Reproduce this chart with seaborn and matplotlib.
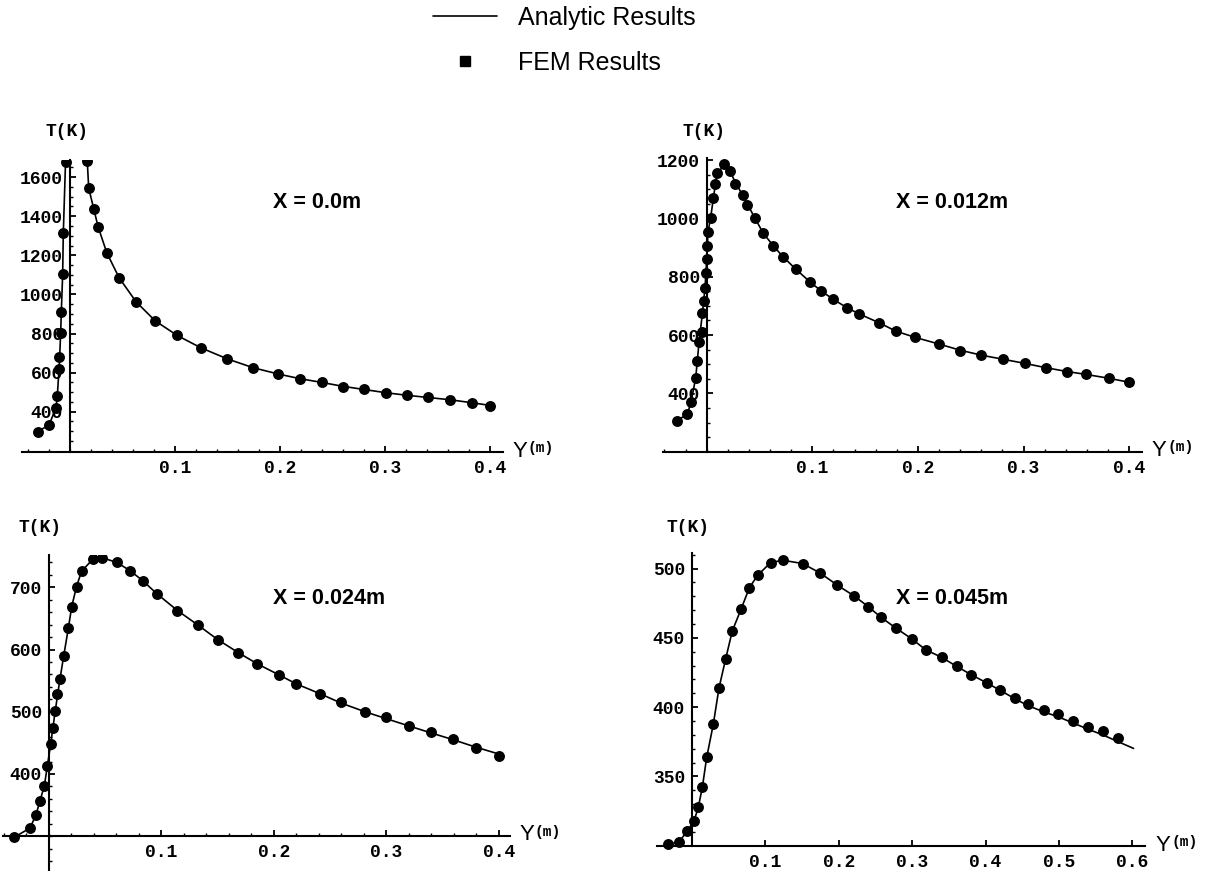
import numpy as np
import matplotlib
matplotlib.use("Agg")
import matplotlib.pyplot as plt
import seaborn as sns
from matplotlib.lines import Line2D

sns.set_theme(style="white")
plt.rcParams["font.family"] = ["Liberation Sans", "DejaVu Sans"]
plt.rcParams["axes.edgecolor"] = "black"
plt.rcParams["xtick.color"] = "black"
plt.rcParams["ytick.color"] = "black"
plt.rcParams["text.color"] = "black"

# ---------------- data ----------------
TITLES = ["X = 0.0m", "X = 0.012m", "X = 0.024m", "X = 0.045m"]
LEGEND_LABELS = ["Analytic Results", "FEM Results"]

# Panel 1 : X = 0.0 m
P1_FEM_Y = [-0.0308, -0.020, -0.0133, -0.0121, -0.0102, -0.0102, -0.0089, -0.0083, -0.007, -0.0064,
            -0.0041, 0.0165, 0.0178, 0.0226, 0.0267, 0.035, 0.0467, 0.0629, 0.081, 0.102, 0.1245,
            0.1498, 0.1743, 0.1981, 0.2188, 0.2394, 0.2595, 0.2795, 0.3008, 0.3208, 0.3405, 0.3618,
            0.3825, 0.40]
P1_FEM_T = [298, 332, 420, 482, 617, 681, 801, 908, 1104, 1312,
            1676, 1680, 1543, 1437, 1346, 1213, 1085, 962, 865, 790, 727,
            670, 625, 593, 569, 550, 528, 516, 494, 484, 474, 461,
            443, 429]
P1_AN_Y = [-0.0308, -0.020, -0.0133, -0.0121, -0.0102, -0.0089, -0.0083, -0.007, -0.0064, -0.0042,
           -0.0030, 0.0150, 0.0163, 0.0178, 0.0226, 0.0267, 0.035, 0.0467, 0.0629, 0.081, 0.102,
           0.1245, 0.1498, 0.1743, 0.1981, 0.2188, 0.2394, 0.2595, 0.2795, 0.3008, 0.3208, 0.3405,
           0.3618, 0.3825, 0.40]
P1_AN_T = [298, 332, 420, 482, 640, 801, 908, 1104, 1312, 1690,
           2600, 2600, 1690, 1543, 1437, 1346, 1213, 1085, 962, 865, 790,
           727, 670, 625, 593, 569, 550, 530, 514, 497, 484, 473,
           461, 446, 432]

# Panel 2 : X = 0.012 m
P2_FEM_Y = [-0.0284, -0.0183, -0.0148, -0.0104, -0.0089, -0.0073, -0.0047, -0.0041, -0.0026, -0.0016,
            -0.0007, 0.0, 0.0006, 0.0012, 0.004, 0.0063, 0.0079, 0.0095, 0.0164, 0.022, 0.0268,
            0.0347, 0.0378, 0.0457, 0.0536, 0.063, 0.0726, 0.0843, 0.0975, 0.108, 0.12, 0.1326,
            0.1446, 0.1632, 0.1793, 0.1973, 0.22, 0.24, 0.26, 0.2804, 0.3009, 0.3211, 0.341,
            0.359, 0.3804, 0.40]
P2_FEM_T = [306, 329, 371, 454, 512, 575, 611, 674, 718, 762,
            812, 861, 906, 952, 1000, 1069, 1118, 1157, 1186, 1163, 1118,
            1080, 1046, 1000, 949, 906, 869, 826, 783, 752, 722, 694,
            672, 642, 613, 592, 569, 546, 531, 517, 503, 487, 474,
            465, 452, 438]
P2_AN_Y = [-0.0284, -0.0183, -0.0148, -0.0104, -0.0073, -0.0041, -0.0016, 0.0, 0.0012, 0.004,
           0.0063, 0.0095, 0.0164, 0.022, 0.0268, 0.0347, 0.0457, 0.0536, 0.063, 0.0726, 0.0843,
           0.0975, 0.108, 0.12, 0.1326, 0.1446, 0.1632, 0.1793, 0.1973, 0.22, 0.24, 0.26,
           0.2804, 0.3009, 0.3211, 0.341, 0.359, 0.3804, 0.40]
P2_AN_T = [306, 329, 371, 454, 575, 674, 762, 861, 952, 1010,
           1069, 1150, 1184, 1163, 1125, 1075, 1000, 949, 906, 867, 826,
           783, 752, 722, 694, 672, 642, 613, 592, 569, 548, 531,
           517, 503, 488, 475, 465, 452, 438]

# Panel 3 : X = 0.024 m
P3_FEM_Y = [-0.0311, -0.0169, -0.0116, -0.008, -0.0042, -0.0015, 0.0015, 0.0038, 0.0053, 0.0074,
            0.0098, 0.0133, 0.0172, 0.0202, 0.0246, 0.029, 0.0394, 0.0468, 0.0602, 0.072, 0.0838,
            0.0957, 0.114, 0.1327, 0.15, 0.1683, 0.1852, 0.2047, 0.2196, 0.2409, 0.2596, 0.2809,
            0.2996, 0.3203, 0.3396, 0.3594, 0.3796, 0.40]
P3_FEM_T = [298, 313, 334, 357, 380, 412, 448, 474, 501, 529,
            553, 590, 634, 669, 700, 727, 745, 747, 740, 727, 710,
            690, 662, 640, 615, 594, 576, 559, 545, 529, 515, 500,
            491, 477, 467, 456, 442, 429]
P3_AN_Y = [-0.0311, -0.0169, -0.0116, -0.008, -0.0042, -0.0015, 0.0015, 0.0053, 0.0098, 0.0133,
           0.0172, 0.0202, 0.0246, 0.029, 0.0394, 0.0468, 0.0602, 0.072, 0.0838, 0.0957, 0.114,
           0.1327, 0.15, 0.1683, 0.1852, 0.2047, 0.2196, 0.2409, 0.2596, 0.2809, 0.2996, 0.3203,
           0.3396, 0.3594, 0.3796, 0.40]
P3_AN_T = [298, 313, 334, 357, 380, 412, 448, 498, 553, 592,
           634, 669, 702, 726, 746, 748, 740, 727, 710, 690, 663,
           639, 616, 595, 577, 559, 545, 529, 514, 500, 489, 477,
           466, 455, 443, 432]

# Panel 4 : X = 0.045 m
P4_FEM_Y = [-0.0331, -0.0177, -0.0064, 0.0027, 0.0086, 0.0141, 0.02, 0.029, 0.0368, 0.0459,
            0.0549, 0.0668, 0.0781, 0.0895, 0.1072, 0.1236, 0.1508, 0.1744, 0.198, 0.2207,
            0.2402, 0.2575, 0.2779, 0.2993, 0.3184, 0.3402, 0.3606, 0.3801, 0.4015, 0.4196,
            0.44, 0.4582, 0.4796, 0.499, 0.5195, 0.5399, 0.5595, 0.5808]
P4_FEM_T = [301, 302.7, 310.6, 317.8, 327.8, 342.2, 363.7, 387.6, 413.9, 434.9,
            455, 470.6, 486.1, 495.2, 504.3, 506, 503.6, 496.8, 488, 480.3,
            472.5, 464.8, 457, 449.3, 441.4, 435.9, 429.4, 423.5, 417.5, 412.7,
            406.7, 401.9, 397.6, 394.8, 390, 385.7, 382.8, 378]
P4_AN_Y = [-0.0331, -0.0177, -0.0064, 0.0027, 0.0086, 0.0141, 0.02, 0.029, 0.0368, 0.0459,
           0.0549, 0.0668, 0.0781, 0.0895, 0.1072, 0.1236, 0.1508, 0.1744, 0.198, 0.2207,
           0.2402, 0.2575, 0.2779, 0.2993, 0.3184, 0.3402, 0.3606, 0.3801, 0.4015, 0.4196,
           0.44, 0.4582, 0.4796, 0.499, 0.5195, 0.5399, 0.5595, 0.5808, 0.6016]
P4_AN_T = [301, 302.7, 310.6, 317.8, 327.8, 342.2, 363.7, 387.6, 413.9, 434.9,
           455, 470.6, 486.1, 495.2, 504.3, 506, 503.6, 496.8, 488, 480.3,
           472.5, 464.8, 457, 449.3, 441.4, 435.9, 429.4, 423.5, 417.5, 412.2,
           406, 401, 396.5, 393, 388.5, 384, 380, 375, 370.2]

X_MAJOR_1 = [0.1, 0.2, 0.3, 0.4]
X_MAJOR_4 = [0.1, 0.2, 0.3, 0.4, 0.5, 0.6]
Y_MAJOR = [[400, 600, 800, 1000, 1200, 1400, 1600],
           [400, 600, 800, 1000, 1200],
           [400, 500, 600, 700],
           [350, 400, 450, 500]]

# ---------------- layout ----------------
W, H = 1214, 871
fig = plt.figure(figsize=(W / 100, H / 100), dpi=100)

panels = [
    dict(box=(22, 160, 503.3, 452), xlim=(-0.0457, 0.4123), ylim=(194, 1687.5), xaxis=194,
         fy=P1_FEM_Y, ft=P1_FEM_T, ay=P1_AN_Y, at=P1_AN_T, xmaj=X_MAJOR_1,
         xmin=np.arange(-0.04, 0.401, 0.02), ymaj=Y_MAJOR[0], ymin=np.arange(250, 1690, 50),
         clip=True, title=(317, 203), tk=(67, 131), ylab=(520, 451)),
    dict(box=(663, 158, 1141.7, 451.7), xlim=(-0.0414, 0.4118), ylim=(200, 1207), xaxis=200,
         fy=P2_FEM_Y, ft=P2_FEM_T, ay=P2_AN_Y, at=P2_AN_T, xmaj=X_MAJOR_1,
         xmin=np.arange(-0.04, 0.401, 0.02), ymaj=Y_MAJOR[1], ymin=np.arange(250, 1207, 50),
         clip=True, title=(952, 203), tk=(704, 131), ylab=(1159, 450.5)),
    dict(box=(3.3, 555, 510, 871), xlim=(-0.0406, 0.4098), ylim=(244, 752), xaxis=300,
         fy=P3_FEM_Y, ft=P3_FEM_T, ay=P3_AN_Y, at=P3_AN_T, xmaj=X_MAJOR_1,
         xmin=np.arange(-0.04, 0.401, 0.02), ymaj=Y_MAJOR[2], ymin=np.arange(260, 752, 20),
         clip=True, title=(329, 598), tk=(40, 527), ylab=(526.5, 834.5)),
    dict(box=(656.7, 553.3, 1145, 845.7), xlim=(-0.0481, 0.6172), ylim=(300, 511), xaxis=300,
         fy=P4_FEM_Y, ft=P4_FEM_T, ay=P4_AN_Y, at=P4_AN_T, xmaj=X_MAJOR_4,
         xmin=[], ymaj=Y_MAJOR[3], ymin=np.arange(310, 511, 10),
         clip=False, title=(952, 598), tk=(688, 528), ylab=(1163, 845)),
]

mono = dict(family=["Liberation Mono", "DejaVu Sans Mono"], weight="bold", size=13)

for i, p in enumerate(panels):
    l, t, r, b = p["box"]
    ax = fig.add_axes([l / W, 1 - b / H, (r - l) / W, (b - t) / H])
    ax.set_facecolor("none")
    sns.lineplot(x=p["ay"], y=p["at"], sort=False, estimator=None, color="black",
                 linewidth=1.2, ax=ax)
    sns.scatterplot(x=p["fy"], y=p["ft"], color="black", s=62, linewidth=0, ax=ax,
                    zorder=3, clip_on=p["clip"])
    ax.set_xlim(*p["xlim"])
    ax.set_ylim(*p["ylim"])
    ax.set_xlabel("")
    ax.set_ylabel("")
    for s in ["top", "right"]:
        ax.spines[s].set_visible(False)
    ax.spines["left"].set_position(("data", 0))
    ax.spines["bottom"].set_position(("data", p["xaxis"]))
    for s in ["left", "bottom"]:
        ax.spines[s].set_linewidth(1.5)
        ax.spines[s].set_color("black")
    ax.set_xticks(p["xmaj"], labels=[f"{v:.1f}" for v in p["xmaj"]], **mono)
    ax.set_xticks(p["xmin"], minor=True)
    ax.set_yticks(p["ymaj"], labels=[f"{v}" for v in p["ymaj"]], **mono)
    ax.set_yticks(p["ymin"], minor=True)
    ax.tick_params(which="both", direction="in", color="black",
                   bottom=True, left=True, top=False, right=False)
    ax.tick_params(which="major", length=4.0, width=1.3)
    ax.tick_params(which="minor", length=2.5, width=1.0)
    ax.tick_params(axis="x", which="major", pad=6)
    ax.tick_params(axis="y", which="major", pad=5)
    ax.grid(False)

    tx, ty = p["title"]
    fig.text(tx / W, 1 - ty / H, TITLES[i], ha="center", va="center",
             fontsize=15.5, fontweight="bold")
    kx, ky = p["tk"]
    fig.text(kx / W, 1 - ky / H, "T(K)", ha="center", va="center", **mono)
    yx, yy = p["ylab"]
    fig.text(yx / W, 1 - yy / H, "Y", ha="center", va="center", fontsize=16)
    fig.text((yx + 8) / W, 1 - (yy - 3) / H, "(m)", ha="left", va="center",
             family=["Liberation Mono", "DejaVu Sans Mono"], weight="bold", size=10.5)

handles = [Line2D([0], [0], color="black", lw=1.2),
           Line2D([0], [0], marker="s", ls="none", color="black", ms=7)]
fig.legend(handles=handles, labels=LEGEND_LABELS, loc="upper left",
           bbox_to_anchor=(433 / W, 1 - 6 / H), frameon=False, fontsize=18,
           handlelength=2.56, handletextpad=0.84, labelspacing=0.85,
           borderpad=0, borderaxespad=0)

fig.savefig("out.png", dpi=100, facecolor="white")
